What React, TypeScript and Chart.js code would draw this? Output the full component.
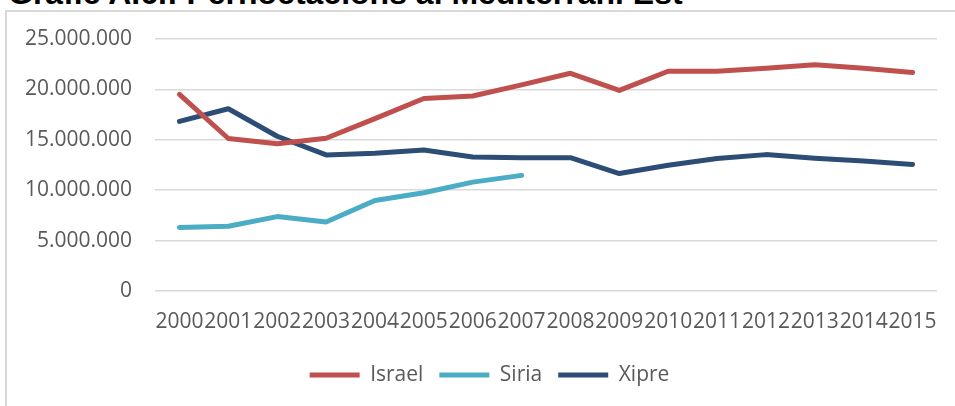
import React, { useEffect, useRef } from "react";
import { Chart, registerables } from "chart.js";

Chart.register(...registerables);

const TITLE = "Gràfic A.6.: Pernoctacions al Mediterrani Est";
const YEARS = ["2000","2001","2002","2003","2004","2005","2006","2007","2008","2009","2010","2011","2012","2013","2014","2015"];
const ISRAEL = [19500000,15130000,14600000,15150000,17100000,19100000,19350000,20450000,21600000,19900000,21800000,21800000,22100000,22450000,22100000,21680000];
const SIRIA = [6300000,6420000,7380000,6850000,8980000,9750000,10800000,11470000,null,null,null,null,null,null,null,null];
const XIPRE = [16820000,18080000,15350000,13500000,13660000,13980000,13300000,13230000,13230000,11650000,12480000,13150000,13530000,13180000,12900000,12560000];
const SERIES_NAMES = ["Israel", "Siria", "Xipre"];
const SERIES_COLORS = ["#C0504D", "#4BACC6", "#2C4D75"];
const Y_MIN = 0;
const Y_MAX = 25000000;
const Y_STEP = 5000000;

const fmt = (v: number) => String(v).replace(/\B(?=(\d{3})+(?!\d))/g, ".");

const legendShift = {
  id: "legendShift",
  afterLayout(chart: any) {
    if (chart.legend) chart.legend.left += 35;
  },
};

export default function App() {
  const ref = useRef<HTMLCanvasElement | null>(null);
  useEffect(() => {
    if (!ref.current) return;
    const seriesData = [ISRAEL, SIRIA, XIPRE];
    const font = { family: "'Open Sans', sans-serif", size: 21 };
    const chart = new Chart(ref.current, {
      type: "line",
      data: {
        labels: YEARS,
        datasets: SERIES_NAMES.map((name, i) => ({
          label: name,
          data: seriesData[i],
          borderColor: SERIES_COLORS[i],
          backgroundColor: SERIES_COLORS[i],
          borderWidth: 5,
          pointRadius: 0,
          pointHoverRadius: 0,
          tension: 0,
          spanGaps: false,
          borderCapStyle: "round",
          borderJoinStyle: "round",
        })),
      },
      plugins: [legendShift],
      options: {
        responsive: false,
        animation: false,
        devicePixelRatio: 1,
        layout: { padding: { left: 0, right: 36, top: 27, bottom: 10.5 } },
        plugins: {
          title: { display: false },
          tooltip: { enabled: false },
          legend: {
            display: true,
            position: "bottom",
            labels: {
              usePointStyle: true,
              pointStyle: "line",
              pointStyleWidth: 50,
              padding: 16,
              color: "#595959",
              font,
            },
          },
        },
        scales: {
          x: {
            type: "category",
            offset: true,
            grid: { display: false, drawTicks: false },
            border: { display: false },
            ticks: {
              color: "#595959",
              font,
              padding: 18.4,
              autoSkip: false,
              maxRotation: 0,
              minRotation: 0,
            },
            afterFit: (s: any) => { s.height = 57.5; },
          },
          y: {
            min: Y_MIN,
            max: Y_MAX,
            grid: { color: "#d9d9d9", lineWidth: 1.5, drawTicks: true, tickLength: 23, tickColor: "rgba(0,0,0,0)" },
            border: { display: false },
            ticks: {
              stepSize: Y_STEP,
              color: "#595959",
              font,
              padding: 0,
              callback: (v: any) => fmt(Number(v)),
            },
            afterFit: (s: any) => { s.width = 148; },
          },
        },
      },
    } as any);
    return () => chart.destroy();
  }, []);

  return (
    <div style={{ position: "fixed", left: 0, top: 0, width: 955, height: 406, overflow: "hidden", background: "#fff" }}>
      <div style={{ position: "absolute", left: 5, top: 10, width: 1000, height: 500, borderTop: "2px solid #d9d9d9", borderLeft: "2px solid #d9d9d9", boxSizing: "border-box" }} />
      <div style={{ position: "absolute", left: 8, top: -22.6, whiteSpace: "nowrap", font: "bold 32px 'Liberation Sans', Arial, sans-serif", lineHeight: "32px", color: "#000" }}>{TITLE}</div>
      <canvas ref={ref} width={966} height={394} style={{ position: "absolute", left: 7, top: 12, width: 966, height: 394 }} />
    </div>
  );
}
